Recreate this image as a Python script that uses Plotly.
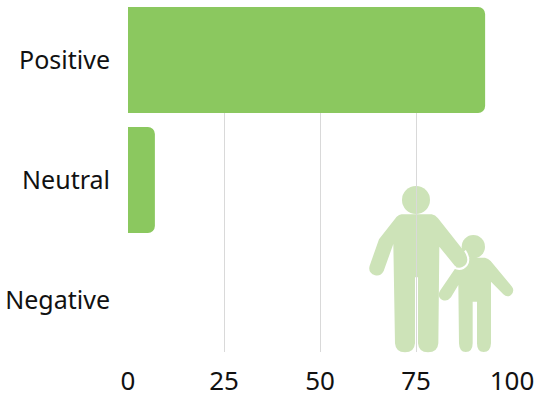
import re
import plotly.graph_objects as go

categories = ["Positive", "Neutral", "Negative"]
values = [93, 7, 0]
x_ticks = [0, 25, 50, 75, 100]

W, H = 535, 394
L, R, T, B = 128, 512, 7, 352
ICON = "#cde3b8"
BAR = "#8bc85f"


def zx(v):
    return 350 + v / 3


def zy(v):
    return 170 + v / 3


def to_paper(path):
    """Icon outlines are written in the picture's zoomed pixels; convert to paper space."""
    out = []
    for tok in path.split():
        if re.fullmatch(r"[MLQCZ]", tok):
            out.append(tok)
        else:
            a, b = tok.split(",")
            px, py = zx(float(a)), zy(float(b))
            out.append(f"{(px - L) / (R - L):.5f},{(B - py) / (B - T):.5f}")
    return " ".join(out)


child = ("M 335,263 L 405,263 Q 415,265 422,273 L 486,350 Q 495,363 483,375 Q 471,384 460,373 "
         "L 423,335 L 423,520 Q 422,546 401,546 Q 381,546 381,520 L 381,395 L 368,395 L 368,520 "
         "Q 368,546 347,546 Q 328,546 327,520 L 325,345 L 303,382 Q 292,396 277,390 Q 260,380 270,362 "
         "L 318,292 Q 325,270 335,263 Z")
adult = ("M 155,133 L 245,133 Q 256,135 264,145 L 347,250 Q 358,268 345,283 Q 330,298 315,288 "
         "L 268,230 L 265,520 Q 263,547 234,547 Q 206,547 204,520 L 204,322 L 195,322 L 195,520 "
         "Q 193,547 165,547 Q 137,547 135,520 L 130,222 L 101,303 Q 92,320 75,316 Q 53,308 59,287 "
         "L 87,208 L 140,140 Q 147,134 155,133 Z")
halo = "M 312,293 Q 335,303 350,285 Q 362,268 345,242"


def circle(cx, cy, r):
    return dict(type="circle", xref="paper", yref="paper", layer="below",
                x0=(zx(cx - r) - L) / (R - L), x1=(zx(cx + r) - L) / (R - L),
                y0=(B - zy(cy + r)) / (B - T), y1=(B - zy(cy - r)) / (B - T),
                fillcolor=ICON, line=dict(width=0))


def outline(p):
    return dict(type="path", xref="paper", yref="paper", layer="below", path=to_paper(p),
                fillcolor=ICON, line=dict(width=0))


shapes = [
    circle(370, 230, 35),
    outline(child),
    circle(198, 90, 42),
    outline(adult),
    dict(type="path", xref="paper", yref="paper", layer="below", path=to_paper(halo),
         line=dict(color="white", width=2)),
]

fig = go.Figure(go.Bar(
    y=categories, x=values, orientation="h",
    marker=dict(color=BAR, line=dict(width=0)),
    width=0.883,
    hoverinfo="skip",
))

fig.update_layout(
    width=W, height=H,
    margin=dict(l=L, r=W - R, t=T, b=H - B, pad=0, autoexpand=False),
    autosize=False,
    paper_bgcolor="white", plot_bgcolor="rgba(0,0,0,0)",
    barcornerradius=7,
    showlegend=False,
    font=dict(family="Noto Sans", size=25, color="#111111"),
    shapes=shapes,
    xaxis=dict(range=[0, 100], tickvals=x_ticks, showgrid=True, gridcolor="#d9d9d9", gridwidth=1,
               automargin=False,
               zeroline=False, showline=False, ticks="outside", ticklen=6, tickcolor="rgba(0,0,0,0)",
               tickfont=dict(size=26)),
    yaxis=dict(type="category", categoryorder="array", categoryarray=categories, automargin=False,
               range=[2.433, -0.4417], showgrid=False, zeroline=False, showline=False,
               ticks="outside", ticklen=12, tickcolor="rgba(0,0,0,0)", tickfont=dict(size=25)),
)

fig.write_html("out.html", config=dict(displayModeBar=False),
               post_script="document.body.style.margin='0';document.documentElement.style.overflow='hidden';")
